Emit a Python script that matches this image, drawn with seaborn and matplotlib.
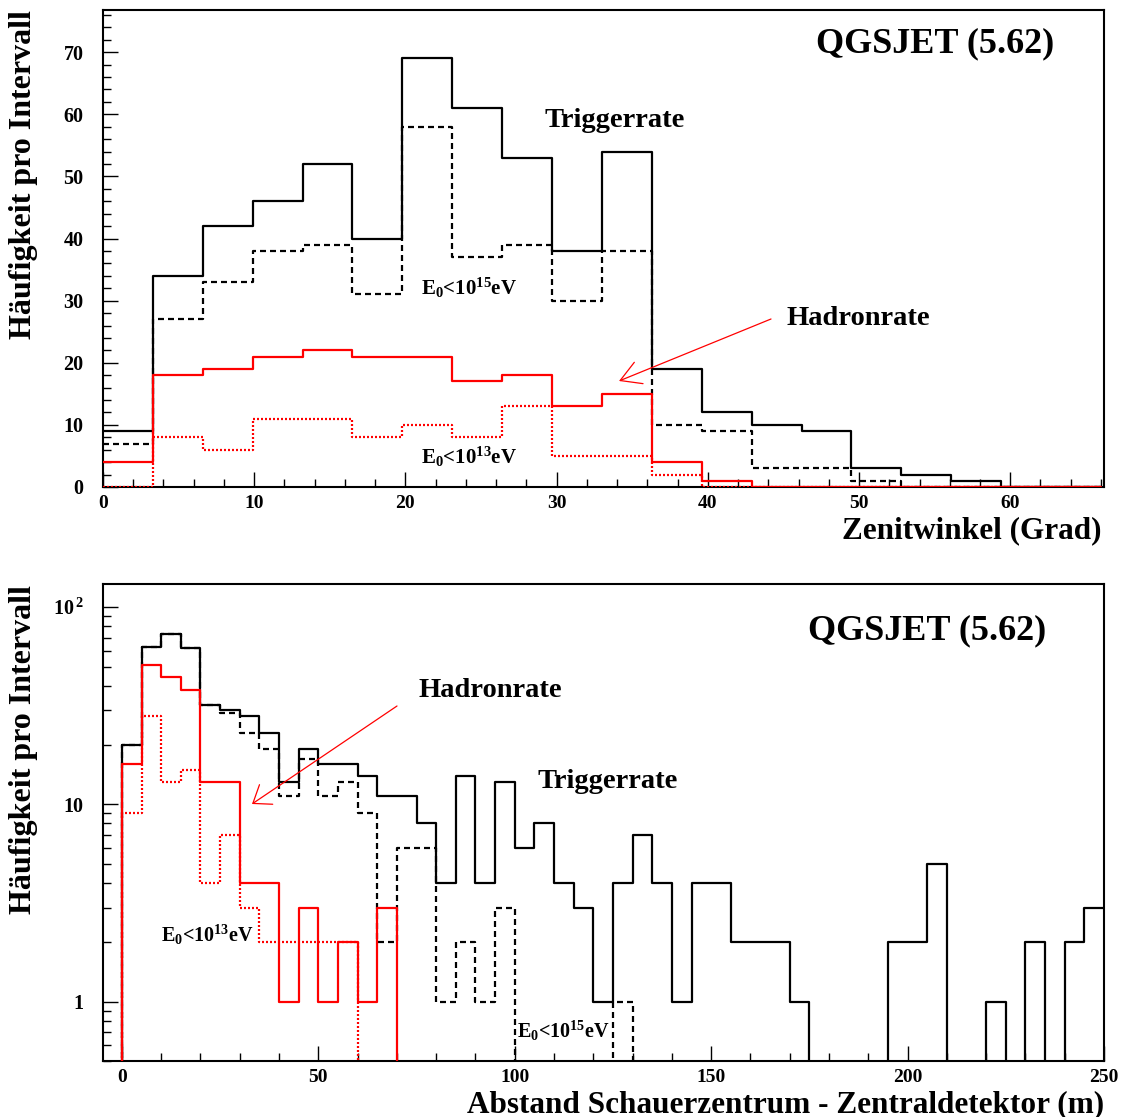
import numpy as np
import matplotlib
matplotlib.use("Agg")
import matplotlib.pyplot as plt
import seaborn as sns
from matplotlib.ticker import MultipleLocator, FixedLocator, FixedFormatter, LogLocator, NullFormatter

# ---------------- data ----------------
# top panel: zenith angle histograms (bin width 3.3 deg, 0..66 deg)
zen_edges = np.round(np.arange(0, 66.01, 3.3), 2)
zen_trigger = [9, 34, 42, 46, 52, 40, 69, 61, 53, 38, 54, 19, 12, 10, 9, 3, 2, 1, 0, 0]
zen_trigger_e15 = [7, 27, 33, 38, 39, 31, 58, 37, 39, 30, 38, 10, 9, 3, 3, 1, 0, 0, 0, 0]
zen_hadron = [4, 18, 19, 21, 22, 21, 21, 17, 18, 13, 15, 4, 1, 0, 0, 0, 0, 0, 0, 0]
zen_hadron_e13 = [0, 8, 6, 11, 11, 8, 10, 8, 13, 5, 5, 2, 0, 0, 0, 0, 0, 0, 0, 0]

# bottom panel: core distance histograms (bin width 5 m, -5..250 m)
dist_edges = np.arange(-5, 251, 5)
dist_trigger = [0, 20, 63, 73, 62, 32, 30, 28, 23, 13, 19, 16, 16, 14, 11, 11, 8, 4, 14, 4, 13,
                6, 8, 4, 3, 1, 4, 7, 4, 1, 4, 4, 2, 2, 2, 1, 0, 0, 0, 0, 2, 2, 5, 0, 0, 1, 0,
                2, 0, 2, 3]
dist_trigger_e15 = [0, 20, 63, 73, 62, 32, 29, 23, 19, 11, 17, 11, 13, 9, 2, 6, 6, 1, 2, 1, 3,
                    0, 0, 0, 0, 0, 1, 0, 0, 0, 0, 0, 0, 0, 0, 0, 0, 0, 0, 0, 0, 0, 0, 0, 0, 0, 0,
                    0, 0, 0, 0]
dist_hadron = [0, 16, 51, 44, 38, 13, 13, 4, 4, 1, 3, 1, 2, 1, 3] + [0] * 36
dist_hadron_e13 = [0, 9, 28, 13, 15, 4, 7, 3, 2, 2, 2, 2, 2] + [0] * 38

y_ticks_log = [1, 10, 100]
y_ticklabels_log = ["1", "10", r"10$^{\,2}$"]

# ---------------- style ----------------
sns.set_theme(style="ticks", rc={
    "axes.edgecolor": "black", "xtick.color": "black", "ytick.color": "black",
    "axes.linewidth": 1.5, "text.color": "black", "axes.labelcolor": "black"})
plt.rcParams["font.family"] = ["Liberation Serif", "DejaVu Serif"]
plt.rcParams["font.weight"] = "bold"
plt.rcParams["mathtext.fontset"] = "custom"
plt.rcParams["mathtext.rm"] = "Liberation Serif:bold"
plt.rcParams["mathtext.it"] = "Liberation Serif:bold"
plt.rcParams["mathtext.bf"] = "Liberation Serif:bold"

W, H = 1123, 1117
fig = plt.figure(figsize=(W / 100, H / 100), dpi=100)


def box(l, t, r, b):
    return [l / W, 1 - b / H, (r - l) / W, (b - t) / H]


ax1 = fig.add_axes(box(103, 10, 1104, 487))
ax2 = fig.add_axes(box(103, 584, 1104, 1061))

DASH = (0, (2.7, 1.8))
DOT = (0, (0.9, 0.9))


def step(ax, edges, vals, color, ls, floor=None, z=2):
    edges = np.asarray(edges, float)
    centers = (edges[:-1] + edges[1:]) / 2
    v = np.asarray(vals, float)
    if floor is not None:
        v = np.where(v > 0, v, floor)
    sns.histplot(x=centers, weights=v, bins=[float(e) for e in edges], element="step",
                 fill=False, color=color, linestyle=ls, linewidth=1.6, ax=ax, zorder=z)


# top panel
step(ax1, zen_edges, zen_trigger_e15, "black", DASH)
step(ax1, zen_edges, zen_trigger, "black", "-")
step(ax1, zen_edges, zen_hadron_e13, "red", DOT, z=3)
step(ax1, zen_edges, zen_hadron, "red", "-", z=3)
for ln in ax1.lines:
    if ln.get_color() == "red":
        ln.set_clip_on(False)

# bottom panel
step(ax2, dist_edges, dist_trigger_e15, "black", DASH, floor=1e-3)
step(ax2, dist_edges, dist_trigger, "black", "-", floor=1e-3)
step(ax2, dist_edges, dist_hadron_e13, "red", DOT, floor=1e-3, z=3)
step(ax2, dist_edges, dist_hadron, "red", "-", floor=1e-3, z=3)

# axes formatting
ax1.set_xlim(0, 66.2)
ax1.set_ylim(0, 76.8)
ax1.xaxis.set_major_locator(MultipleLocator(10))
ax1.xaxis.set_minor_locator(MultipleLocator(2))
ax1.yaxis.set_major_locator(MultipleLocator(10))
ax1.yaxis.set_minor_locator(MultipleLocator(2))

ax2.set_yscale("log")
ax2.set_xlim(-4.8, 250)
ax2.set_ylim(0.5, 131)
ax2.xaxis.set_major_locator(MultipleLocator(50))
ax2.xaxis.set_minor_locator(MultipleLocator(10))
ax2.yaxis.set_major_locator(FixedLocator(y_ticks_log))
ax2.yaxis.set_major_formatter(FixedFormatter(y_ticklabels_log))
ax2.yaxis.set_minor_locator(LogLocator(base=10, subs=np.arange(2, 10)))
ax2.yaxis.set_minor_formatter(NullFormatter())

for ax in (ax1, ax2):
    ax.set_xlabel("")
    ax.set_ylabel("")
    for sp in ax.spines.values():
        sp.set_visible(True)
        sp.set_linewidth(1.5)
        sp.set_color("black")
    ax.tick_params(which="both", direction="in", top=False, right=False, width=1.0, color="black")
    ax.tick_params(which="major", length=11)
    ax.tick_params(which="minor", length=5.5)
    ax.tick_params(axis="x", which="major", labelsize=14, pad=6)
    ax.tick_params(axis="y", which="major", labelsize=14.5, pad=14)
    for lab in ax.get_xticklabels() + ax.get_yticklabels():
        lab.set_fontweight("bold")


def ftext(px, py, s, **kw):
    fig.text(px / W, 1 - py / H, s, **kw)


TITLE = dict(fontsize=22.5, fontweight="bold")
# axis titles
ftext(1102, 538, "Zenitwinkel (Grad)", ha="right", va="baseline", **TITLE)
ftext(1104, 1112, "Abstand Schauerzentrum - Zentraldetektor (m)", ha="right", va="baseline", **TITLE)
ftext(24, 10, "Häufigkeit pro Intervall", rotation=90, ha="center", va="top", fontsize=23, fontweight="bold")
ftext(24, 585, "Häufigkeit pro Intervall", rotation=90, ha="center", va="top", fontsize=23, fontweight="bold")

# annotations top
ftext(935, 52, "QGSJET (5.62)", ha="center", va="baseline", fontsize=26, fontweight="bold")
ftext(615, 127, "Triggerrate", ha="center", va="baseline", fontsize=20.5, fontweight="bold")
ftext(858, 325, "Hadronrate", ha="center", va="baseline", fontsize=20.5, fontweight="bold")
ftext(469, 295, r"E$_{0}$<10$^{15}$eV", ha="center", va="baseline", fontsize=15, fontweight="bold")
ftext(469, 464, r"E$_{0}$<10$^{13}$eV", ha="center", va="baseline", fontsize=15, fontweight="bold")

# annotations bottom
ftext(927, 639, "QGSJET (5.62)", ha="center", va="baseline", fontsize=26, fontweight="bold")
ftext(490, 697, "Hadronrate", ha="center", va="baseline", fontsize=20.5, fontweight="bold")
ftext(608, 788, "Triggerrate", ha="center", va="baseline", fontsize=20.5, fontweight="bold")
ftext(207, 942, r"E$_{0}$<10$^{13}$eV", ha="center", va="baseline", fontsize=14.5, fontweight="bold")
ftext(563, 1038, r"E$_{0}$<10$^{15}$eV", ha="center", va="baseline", fontsize=14.5, fontweight="bold")

# arrows
ax1.annotate("", xy=(619, H - 381), xycoords="figure pixels",
             xytext=(771, H - 319), textcoords="figure pixels",
             arrowprops=dict(arrowstyle="->,head_length=1.44,head_width=0.83", color="red",
                             lw=0.9, shrinkA=0, shrinkB=0, mutation_scale=10))
ax2.annotate("", xy=(252, H - 804), xycoords="figure pixels",
             xytext=(397, H - 706), textcoords="figure pixels",
             arrowprops=dict(arrowstyle="->,head_length=1.15,head_width=0.85", color="red",
                             lw=0.9, shrinkA=0, shrinkB=0, mutation_scale=10))

fig.savefig("out.png", dpi=100)
